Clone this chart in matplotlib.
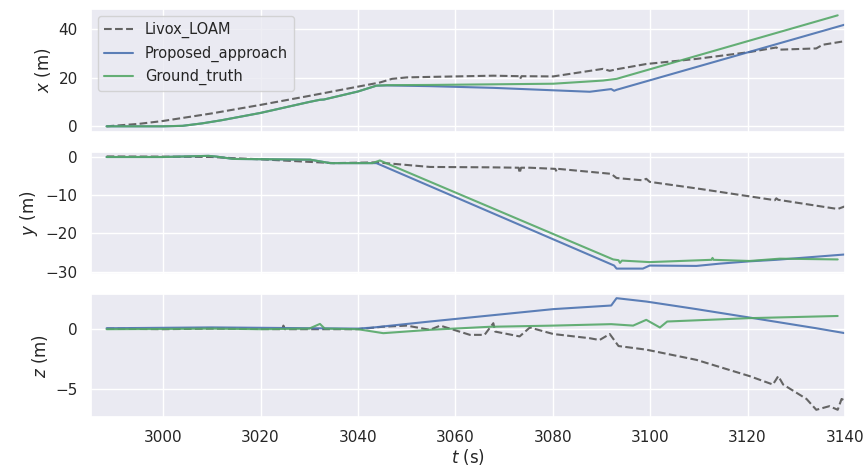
import matplotlib
matplotlib.use('Agg')
import matplotlib.pyplot as plt
import seaborn as sns

# Data (time in s, positions in m)
t_livox_x = [2988.4, 2995, 3000, 3010, 3020, 3030, 3040, 3044.5, 3047, 3050, 3054.8, 3067.8, 3073.0, 3073.3, 3073.6, 3080.1, 3090.3, 3091.7, 3093, 3099.2, 3109.5, 3120.4, 3125.9, 3126.6, 3134.1, 3135.4, 3140]
livox_x = [0, 1.0, 2.2, 5.3, 8.8, 12.5, 16.3, 18.0, 19.5, 20.1, 20.3, 20.8, 20.6, 19.5, 20.6, 20.5, 23.6, 22.8, 23.4, 25.6, 27.7, 30.5, 32.4, 31.5, 32.0, 33.5, 35.0]

t_gt_x = [2988.4, 3000, 3004, 3008, 3012, 3020, 3030, 3032.2, 3033, 3040, 3043.8, 3046, 3054.8, 3080.1, 3090.3, 3093.1, 3120.4, 3138.5]
gt_x = [0, 0, 0.2, 1.2, 2.5, 5.5, 10.0, 10.9, 11.0, 14.3, 16.7, 16.9, 17.0, 17.5, 18.8, 19.5, 35.2, 45.6]

t_prop_x = [2988.4, 3000, 3004, 3008, 3012, 3020, 3030, 3032.2, 3033, 3040, 3043.8, 3046, 3054.8, 3067.8, 3080.1, 3087.6, 3092.0, 3092.6, 3093.1, 3120.4, 3140]
prop_x = [0, 0, 0.2, 1.2, 2.5, 5.5, 10.0, 10.9, 11.0, 14.3, 16.7, 16.8, 16.5, 15.8, 14.8, 14.2, 15.3, 14.6, 15.0, 30.6, 41.8]

t_livox_y = [2988.4, 3000, 3010, 3014.4, 3020, 3035, 3043.8, 3054.8, 3067.1, 3073.0, 3073.2, 3073.5, 3075.3, 3080.5, 3080.8, 3081.1, 3092.0, 3093.1, 3098.5, 3099.2, 3099.9, 3110, 3120.4, 3125.6, 3125.9, 3126.3, 3138.5, 3140]
livox_y = [0.15, 0.1, 0.0, -0.3, -0.6, -1.6, -1.4, -2.6, -2.7, -2.8, -4.2, -2.8, -2.8, -3.1, -3.8, -3.1, -4.4, -5.5, -6.1, -5.7, -6.5, -8.3, -10.3, -11.3, -10.8, -11.2, -13.6, -12.9]

t_gt_y = [2988.4, 3000, 3009.3, 3011, 3014.4, 3030.2, 3034.3, 3043, 3044.5, 3092.4, 3093.5, 3093.8, 3094.2, 3099.9, 3112.6, 3112.8, 3113.0, 3120.4, 3126.6, 3138.5]
gt_y = [0, 0, 0.3, 0.1, -0.5, -0.7, -1.6, -1.6, -0.9, -26.8, -27.0, -27.7, -27.1, -27.5, -26.9, -26.4, -26.9, -27.2, -26.6, -26.8]

t_prop_y = [2988.4, 3000, 3009.3, 3011, 3014.4, 3030.2, 3034.3, 3043.8, 3092.6, 3093.1, 3098.5, 3099.9, 3109.5, 3114.3, 3120.4, 3125.9, 3140]
prop_y = [0, 0, 0.3, 0.1, -0.5, -0.7, -1.6, -1.6, -28.4, -29.2, -29.2, -28.4, -28.5, -27.9, -27.3, -26.9, -25.5]

t_livox_z = [2988.4, 3000, 3010, 3024.5, 3024.7, 3025.0, 3040, 3045, 3050, 3054.8, 3056.9, 3063, 3066, 3067.8, 3068.2, 3073.2, 3075.3, 3080.1, 3087.6, 3089.6, 3091.7, 3093.5, 3099.2, 3109.5, 3120.4, 3125.2, 3126.3, 3127.3, 3132.1, 3134.1, 3136.8, 3138.5, 3139.3, 3140]
livox_z = [0.05, 0.0, 0.05, 0.0, 0.3, 0.0, 0.0, 0.2, 0.3, -0.05, 0.3, -0.47, -0.47, 0.5, -0.2, -0.6, 0.14, -0.4, -0.75, -0.9, -0.4, -1.4, -1.7, -2.55, -3.9, -4.6, -3.9, -4.6, -5.8, -6.7, -6.4, -6.7, -5.8, -5.95]

t_gt_z = [2988.4, 3000, 3010, 3020, 3030, 3032.2, 3033.2, 3040, 3045.2, 3054.8, 3067, 3080.1, 3092, 3096.5, 3099.2, 3102, 3103.5, 3120.4, 3138.5]
gt_z = [0.0, 0.02, 0.05, 0.0, 0.05, 0.44, 0.05, 0.0, -0.33, -0.05, 0.2, 0.3, 0.42, 0.3, 0.78, 0.14, 0.64, 0.92, 1.1]

t_prop_z = [2988.4, 3010, 3040, 3043.1, 3054.8, 3080.1, 3092.0, 3093.1, 3099.2, 3107.4, 3109.5, 3120.4, 3134.1, 3140]
prop_z = [0.08, 0.15, 0.05, 0.14, 0.64, 1.67, 1.97, 2.58, 2.3, 1.8, 1.67, 0.97, 0.08, -0.33]

sns.set_theme(style='darkgrid')

fig, axes = plt.subplots(3, 1, sharex=True, figsize=(8.66, 4.68), dpi=100)
fig.subplots_adjust(left=91 / 866, right=845 / 866, top=1 - 9 / 468, bottom=1 - 417 / 468, hspace=0.163)

series = [
    (t_livox_x, livox_x, t_prop_x, prop_x, t_gt_x, gt_x, '$x$ (m)', (-2.2, 48.2)),
    (t_livox_y, livox_y, t_prop_y, prop_y, t_gt_y, gt_y, '$y$ (m)', (-30.7, 1.4)),
    (t_livox_z, livox_z, t_prop_z, prop_z, t_gt_z, gt_z, '$z$ (m)', (-7.3, 2.9)),
]

for ax, (tl, l, tp, p, tg, g, label, ylim) in zip(axes, series):
    ax.plot(tl, l, '--', color='#646464', lw=1.5, label='Livox_LOAM')
    ax.plot(tp, p, color='#4C72B0', lw=1.5, alpha=0.9, label='Proposed_approach')
    ax.plot(tg, g, color='#55A868', lw=1.5, alpha=0.9, label='Ground_truth')
    ax.set_ylabel(label, fontsize=12)
    ax.set_ylim(*ylim)
    ax.tick_params(labelsize=11)

axes[0].legend(loc='upper left', fontsize=10.5)
axes[2].set_xlim(2985.2, 3140)
axes[2].set_xticks([3000, 3020, 3040, 3060, 3080, 3100, 3120, 3140])
axes[2].set_xlabel('$t$ (s)', fontsize=12, labelpad=1)

fig.savefig('out.png', dpi=100)
